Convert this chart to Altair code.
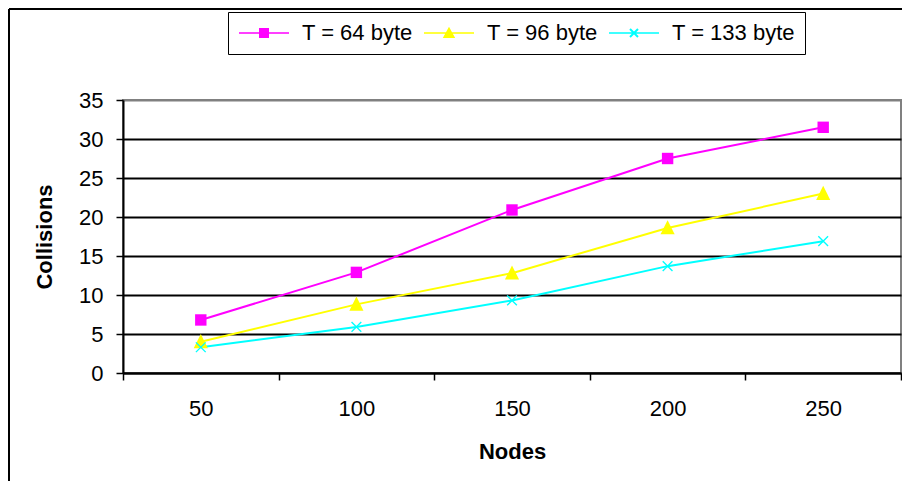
import altair as alt
import pandas as pd

nodes = [50, 100, 150, 200, 250]
series_names = ["T = 64 byte", "T = 96 byte", "T = 133 byte"]
t64 = [6.8, 12.9, 20.9, 27.5, 31.5]
t96 = [4.0, 8.8, 12.8, 18.6, 23.0]
t133 = [3.3, 5.9, 9.3, 13.7, 16.9]
y_ticks = [0, 5, 10, 15, 20, 25, 30, 35]
colors = ["#FF00FF", "#FFFF00", "#00FFFF"]

rows = []
for name, vals in zip(series_names, [t64, t96, t133]):
    for n, v in zip(nodes, vals):
        rows.append({"Nodes": n, "Collisions": v, "series": name})
df = pd.DataFrame(rows)

FONT = "Liberation Sans"
W, H = 778, 273
PL, PT, PR, PB = 115, 92, 1, 108

x_x = "M-0.9,-1.1L1.1,0.9L0.9,1.1L-1.1,-0.9Z M-1.1,0.9L0.9,-1.1L1.1,-0.9L-0.9,1.1Z"
tri = "M0,-1.1L1,0.9H-1Z"
point_shapes = ["square", tri, x_x]

leg_line = "M-1,-0.08H4V0.08H-1Z"
leg_shapes = [
    leg_line + " M1,-0.5H2V0.5H1Z",
    leg_line + " M1.5,-0.62L2.12,0.5H0.88Z",
    leg_line + " M1.17,-0.47L1.97,0.33L1.83,0.47L1.03,-0.33Z M1.03,0.33L1.83,-0.47L1.97,-0.33L1.17,0.47Z",
]

color_scale = alt.Scale(domain=series_names, range=colors)

x_enc = alt.X(
    "Nodes:O",
    scale=alt.Scale(type="band", paddingInner=0, paddingOuter=0),
    axis=alt.Axis(
        title="Nodes",
        tickBand="extent",
        labelAngle=0,
        labelFont=FONT,
        labelFontSize=22,
        labelColor="black",
        labelPadding=18,
        tickSize=7,
        tickColor="black",
        tickWidth=1.5,
        domainColor="black",
        domainWidth=2,
        titleFont=FONT,
        titleFontSize=22,
        titleFontWeight="bold",
        titleColor="black",
        titlePadding=22,
        grid=False,
    ),
)
y_enc = alt.Y(
    "Collisions:Q",
    scale=alt.Scale(domain=[0, 35], nice=False),
    axis=alt.Axis(
        title="Collisions",
        values=y_ticks,
        labelFont=FONT,
        labelFontSize=22,
        labelColor="black",
        labelPadding=13,
        tickSize=7,
        tickColor="black",
        tickWidth=1.5,
        domainColor="black",
        domainWidth=2,
        grid=True,
        gridColor={"condition": {"test": "datum.value === 35", "value": "#808080"}, "value": "black"},
        gridWidth=2,
        titleFont=FONT,
        titleFontSize=22,
        titleFontWeight="bold",
        titleColor="black",
        titlePadding=22,
    ),
)

base = alt.Chart(df)

lines = base.mark_line(strokeWidth=2).encode(
    x=x_enc,
    y=y_enc,
    color=alt.Color("series:N", scale=color_scale, legend=None),
    detail="series:N",
)

points = base.mark_point(filled=True, opacity=1).encode(
    x=x_enc,
    y=y_enc,
    color=alt.Color("series:N", scale=color_scale, legend=None),
    shape=alt.Shape("series:N", scale=alt.Scale(domain=series_names, range=point_shapes), legend=None),
    size=alt.Size("series:N", scale=alt.Scale(type="ordinal", domain=series_names, range=[130, 200, 95]), legend=None),
)

legend_props = dict(
    title=None,
    orient="none",
    legendX=105,
    legendY=-88,
    direction="horizontal",
    labelFont=FONT,
    labelFontSize=22,
    labelColor="black",
    labelOffset=42,
    columnPadding=10,
    symbolSize=400,
    symbolStrokeWidth=0,
    symbolOpacity=1,
    padding=10,
    strokeColor="black",
    fillColor="white",
)

legend_layer = base.transform_filter("false").mark_point(filled=True, opacity=1).encode(
    color=alt.Color("series:N", scale=color_scale, legend=alt.Legend(**legend_props)),
    shape=alt.Shape(
        "series:N",
        scale=alt.Scale(domain=series_names, range=leg_shapes),
        legend=alt.Legend(**legend_props),
    ),
)

frame_df = pd.DataFrame({"k": [0]})
left_border = alt.Chart(frame_df).mark_rule(color="black", strokeWidth=2).encode(
    x=alt.value(-114), y=alt.value(-91), y2=alt.value(H + PB)
)
top_border = alt.Chart(frame_df).mark_rule(color="black", strokeWidth=2).encode(
    x=alt.value(-114), x2=alt.value(W + PR), y=alt.value(-91)
)

chart = (
    alt.layer(lines, points, legend_layer, left_border, top_border)
    .resolve_scale(color="independent", shape="independent", size="independent")
    .properties(
        width=W,
        height=H,
        autosize=alt.AutoSizeParams(type="none"),
        padding={"left": PL, "top": PT, "right": PR, "bottom": PB},
        background="white",
    )
    .configure_view(fill="#C0C0C0", stroke="#808080", strokeWidth=2)
)

chart.save("out.html", embed_options={"renderer": "svg", "actions": False})
